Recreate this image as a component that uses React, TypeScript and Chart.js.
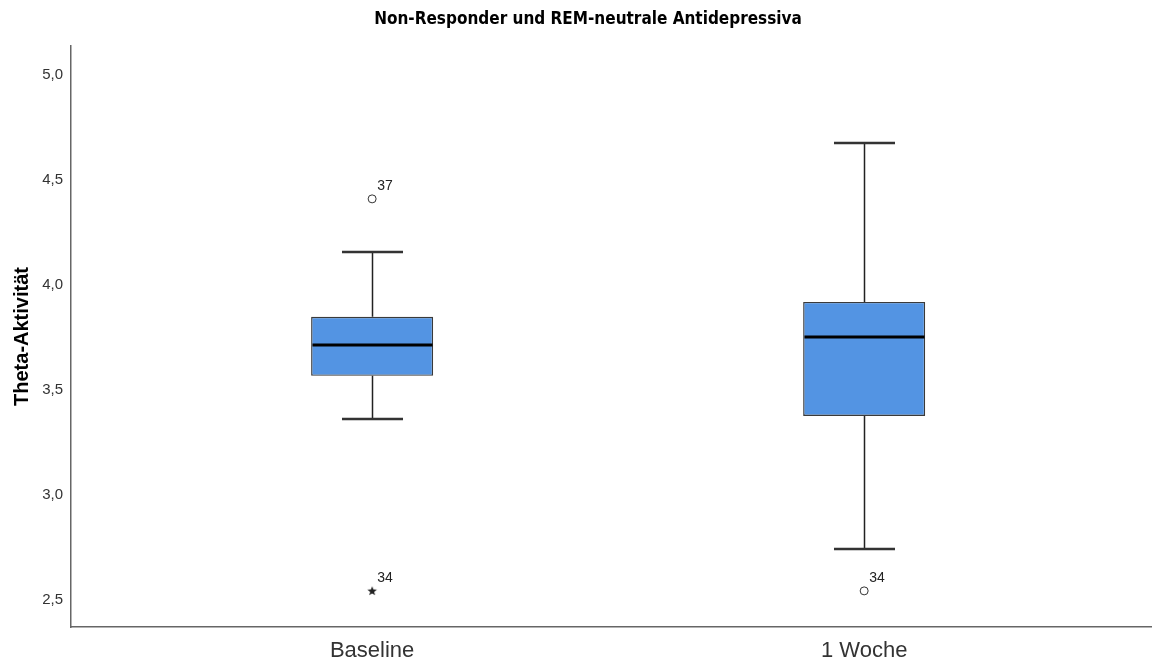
import React, { useEffect, useRef } from 'react';
import { Chart, registerables } from 'chart.js';

Chart.register(...registerables);

const TITLE = 'Non-Responder und REM-neutrale Antidepressiva';
const Y_TITLE = 'Theta-Aktivität';
const categories = ['Baseline', '1 Woche'];
const categoryPositions = [1, 2];
const q1 = [3.567, 3.376];
const median = [3.714, 3.752];
const q3 = [3.848, 3.919];
const whiskerLow = [3.362, 2.743];
const whiskerHigh = [4.157, 4.676];
const outlierCategory = [0, 0, 1];
const outlierValues = [4.41, 2.543, 2.543];
const outlierLabels = ['37', '34', '34'];
const outlierKinds = ['circle', 'star', 'circle'];
const yTicks = [2.5, 3.0, 3.5, 4.0, 4.5, 5.0];
const Y_MIN = 2.371;
const Y_MAX = 5.138;
const X_MIN = 0.388;
const X_MAX = 2.585;

function makeStar(): HTMLCanvasElement {
  const c = document.createElement('canvas');
  c.width = 12;
  c.height = 12;
  const g = c.getContext('2d')!;
  g.fillStyle = '#222';
  g.beginPath();
  const cx = 6, cy = 6.3, ro = 5.0, ri = 2.1;
  for (let i = 0; i < 10; i++) {
    const r = i % 2 === 0 ? ro : ri;
    const a = -Math.PI / 2 + (i * Math.PI) / 5;
    const px = cx + r * Math.cos(a);
    const py = cy + r * Math.sin(a);
    if (i === 0) g.moveTo(px, py); else g.lineTo(px, py);
  }
  g.closePath();
  g.fill();
  return c;
}

const boxExtras = {
  id: 'boxExtras',
  afterDatasetsDraw(chart: any) {
    const { ctx, scales } = chart;
    const x = scales.x;
    const y = scales.y;
    const barMeta = chart.getDatasetMeta(0);
    ctx.save();
    categoryPositions.forEach((pos, i) => {
      const cx = Math.round(x.getPixelForValue(pos)) + 0.5;
      const bw = barMeta.data[i] ? barMeta.data[i].width : 120;
      const capHalf = bw / 4;
      const yHi = y.getPixelForValue(whiskerHigh[i]);
      const yLo = y.getPixelForValue(whiskerLow[i]);
      const yQ1 = y.getPixelForValue(q1[i]);
      const yQ3 = y.getPixelForValue(q3[i]);
      const yMed = y.getPixelForValue(median[i]);
      ctx.strokeStyle = '#222';
      ctx.lineWidth = 1.5;
      ctx.beginPath();
      ctx.moveTo(cx, yHi);
      ctx.lineTo(cx, yQ3);
      ctx.moveTo(cx, yQ1);
      ctx.lineTo(cx, yLo);
      ctx.stroke();
      ctx.strokeStyle = '#333';
      ctx.lineWidth = 2.5;
      ctx.beginPath();
      ctx.moveTo(cx - capHalf, yHi);
      ctx.lineTo(cx + capHalf, yHi);
      ctx.moveTo(cx - capHalf, yLo);
      ctx.lineTo(cx + capHalf, yLo);
      ctx.stroke();
      ctx.strokeStyle = '#000';
      ctx.lineWidth = 3;
      ctx.beginPath();
      ctx.moveTo(cx - bw / 2 + 1, yMed);
      ctx.lineTo(cx + bw / 2 - 1, yMed);
      ctx.stroke();
    });
    const sMeta = chart.getDatasetMeta(1);
    ctx.fillStyle = '#222';
    ctx.font = '14px "Liberation Sans", Arial, sans-serif';
    ctx.textAlign = 'left';
    ctx.textBaseline = 'middle';
    sMeta.data.forEach((pt: any, i: number) => {
      ctx.fillText(outlierLabels[i], pt.x + 5, pt.y - 13);
    });
    ctx.fillStyle = '#000';
    ctx.font = 'bold 17px "Liberation Sans Narrow", "DejaVu Sans Condensed", Arial, sans-serif';
    ctx.textAlign = 'center';
    ctx.textBaseline = 'middle';
    ctx.fillText(TITLE, 588, 20);
    ctx.restore();
  },
};

export default function App() {
  const canvasRef = useRef<HTMLCanvasElement | null>(null);

  useEffect(() => {
    if (!canvasRef.current) return;
    const star = makeStar();
    const pointStyles = outlierKinds.map((k) => (k === 'star' ? star : 'circle'));
    const chart = new Chart(canvasRef.current, {
      type: 'bar',
      data: {
        datasets: [
          {
            type: 'bar',
            label: 'Box',
            data: categoryPositions.map((pos, i) => ({ x: pos, y: [q1[i], q3[i]] })) as any,
            backgroundColor: '#5394E3',
            borderColor: '#3a3a3a',
            borderWidth: 1.4,
            borderSkipped: false,
            barPercentage: 0.248,
            categoryPercentage: 1,
            grouped: false,
          } as any,
          {
            type: 'scatter',
            label: 'Ausreißer',
            data: outlierValues.map((v, i) => ({ x: categoryPositions[outlierCategory[i]], y: v })),
            pointStyle: pointStyles as any,
            pointRadius: 4,
            backgroundColor: '#ffffff',
            borderColor: '#333',
            borderWidth: 1,
          } as any,
        ],
      },
      options: {
        animation: false,
        responsive: true,
        maintainAspectRatio: false,
        layout: { autoPadding: false, padding: { top: 46, right: 0, left: 0, bottom: 0 } },
        plugins: {
          legend: { display: false },
          tooltip: { enabled: false },
          title: { display: false },
        },
        scales: {
          x: {
            type: 'linear',
            offset: false,
            min: X_MIN,
            max: X_MAX,
            grid: { display: false, drawTicks: false, offset: false },
            border: { display: true, color: '#666', width: 1.5 },
            afterBuildTicks: (scale: any) => {
              scale.ticks = categoryPositions.map((v) => ({ value: v }));
            },
            afterFit: (scale: any) => {
              scale.height = 36;
              scale.paddingLeft = 0;
              scale.paddingRight = 0;
            },
            ticks: {
              padding: 11,
              color: '#333',
              font: { family: '"Liberation Sans", Arial, sans-serif', size: 22 },
              callback: (v: any) => categories[categoryPositions.indexOf(Number(v))] ?? '',
              autoSkip: false,
              maxRotation: 0,
            },
          },
          y: {
            type: 'linear',
            min: Y_MIN,
            max: Y_MAX,
            grid: { display: false, drawTicks: false },
            border: { display: true, color: '#666', width: 1.5 },
            afterBuildTicks: (scale: any) => {
              scale.ticks = yTicks.map((v) => ({ value: v }));
            },
            afterFit: (scale: any) => {
              scale.width = 71;
            },
            title: {
              display: true,
              text: Y_TITLE,
              color: '#000',
              font: { family: '"Liberation Sans", Arial, sans-serif', size: 20, weight: 'bold' },
              padding: { top: 10, bottom: 0 },
            },
            ticks: {
              padding: 8,
              color: '#333',
              font: { family: '"Liberation Sans", Arial, sans-serif', size: 15 },
              callback: (v: any) => Number(v).toFixed(1).replace('.', ','),
            },
          },
        },
      },
      plugins: [boxExtras],
    });
    return () => chart.destroy();
  }, []);

  return (
    <div style={{ position: 'absolute', left: 0, top: 0, width: 1152, height: 663, background: '#fff' }}>
      <canvas ref={canvasRef} />
    </div>
  );
}
